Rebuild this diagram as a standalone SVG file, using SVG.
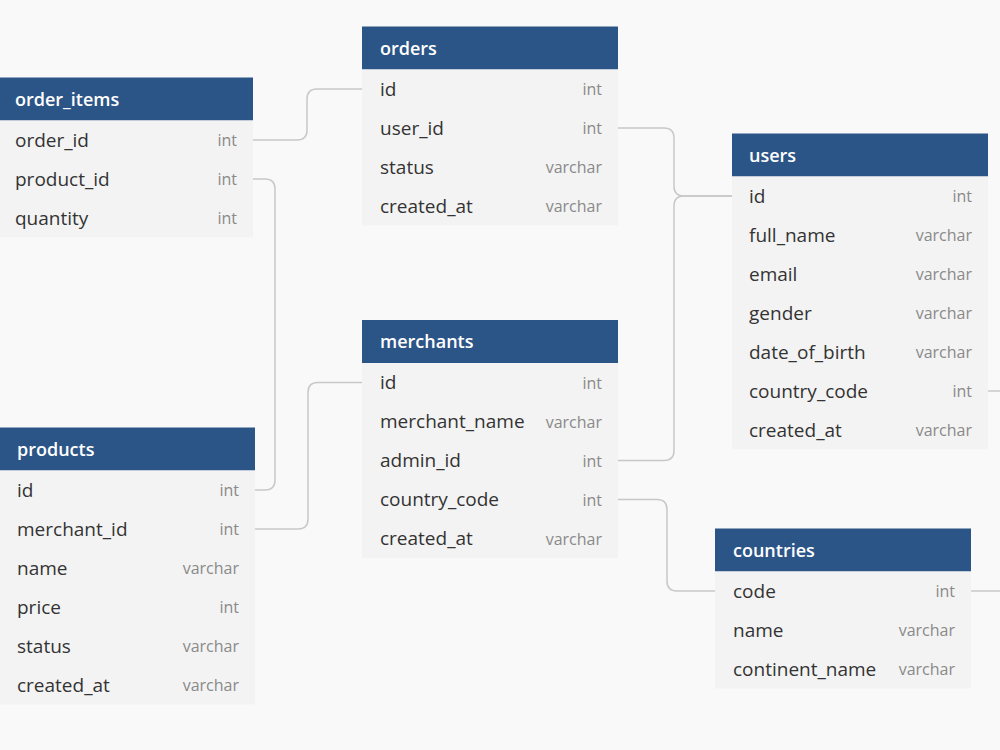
<svg xmlns="http://www.w3.org/2000/svg" width="1000" height="750" viewBox="0 0 1000 750">
<style>
.bg{fill:#f9f9f9}
.hd{fill:#2c5587}
.body{fill:#f3f3f3}
.ht{font-family:"Open Sans","Liberation Sans",sans-serif;font-size:18px;font-weight:600;fill:#ffffff}
.fn{font-family:"Open Sans","Liberation Sans",sans-serif;font-size:19px;fill:#333333}
.ft{font-family:"Open Sans","Liberation Sans",sans-serif;font-size:16px;fill:#8a8a8a;text-anchor:end}
.cn{fill:none;stroke:#c8c8c8;stroke-width:1.5}
</style>
<rect class="bg" x="0" y="0" width="1000" height="750"/>
<g id="connectors">
<path class="cn" d="M253,140 H297 Q307,140 307,130 V99 Q307,89 317,89 H362"/>
<path class="cn" d="M253,179 H265 Q275,179 275,189 V480 Q275,490 265,490 H255"/>
<path class="cn" d="M255,529 H298 Q308,529 308,519 V392.5 Q308,382.5 318,382.5 H362"/>
<path class="cn" d="M618,128 H664 Q674,128 674,138 V186 Q674,196 684,196 H732"/>
<path class="cn" d="M618,460.5 H664 Q674,460.5 674,450.5 V206 Q674,196 684,196 H732"/>
<path class="cn" d="M618,499.5 H657 Q667,499.5 667,509.5 V581 Q667,591 677,591 H715"/>
<path class="cn" d="M988,391 H1000"/>
<path class="cn" d="M971,591 H1000"/>
</g>
<g id="order_items">
<rect class="hd" x="-3" y="77.5" width="256" height="43"/>
<rect class="body" x="-3" y="120.5" width="256" height="117"/>
<text class="ht" x="15" y="105.5">order_items</text>
<text class="fn" x="15" y="146.5">order_id</text><text class="ft" x="237" y="146">int</text>
<text class="fn" x="15" y="185.5">product_id</text><text class="ft" x="237" y="185">int</text>
<text class="fn" x="15" y="224.5">quantity</text><text class="ft" x="237" y="224">int</text>
</g>
<g id="orders">
<rect class="hd" x="362" y="26.5" width="256" height="43"/>
<rect class="body" x="362" y="69.5" width="256" height="156"/>
<text class="ht" x="380" y="54.5">orders</text>
<text class="fn" x="380" y="95.5">id</text><text class="ft" x="602" y="95">int</text>
<text class="fn" x="380" y="134.5">user_id</text><text class="ft" x="602" y="134">int</text>
<text class="fn" x="380" y="173.5">status</text><text class="ft" x="602" y="173">varchar</text>
<text class="fn" x="380" y="212.5">created_at</text><text class="ft" x="602" y="212">varchar</text>
</g>
<g id="users">
<rect class="hd" x="732" y="133.5" width="256" height="43"/>
<rect class="body" x="732" y="176.5" width="256" height="273"/>
<text class="ht" x="749" y="161.5">users</text>
<text class="fn" x="749" y="202.5">id</text><text class="ft" x="972" y="202">int</text>
<text class="fn" x="749" y="241.5">full_name</text><text class="ft" x="972" y="241">varchar</text>
<text class="fn" x="749" y="280.5">email</text><text class="ft" x="972" y="280">varchar</text>
<text class="fn" x="749" y="319.5">gender</text><text class="ft" x="972" y="319">varchar</text>
<text class="fn" x="749" y="358.5">date_of_birth</text><text class="ft" x="972" y="358">varchar</text>
<text class="fn" x="749" y="397.5">country_code</text><text class="ft" x="972" y="397">int</text>
<text class="fn" x="749" y="436.5">created_at</text><text class="ft" x="972" y="436">varchar</text>
</g>
<g id="merchants">
<rect class="hd" x="362" y="320" width="256" height="43"/>
<rect class="body" x="362" y="363" width="256" height="195"/>
<text class="ht" x="380" y="348">merchants</text>
<text class="fn" x="380" y="389">id</text><text class="ft" x="602" y="388.5">int</text>
<text class="fn" x="380" y="428">merchant_name</text><text class="ft" x="602" y="427.5">varchar</text>
<text class="fn" x="380" y="467">admin_id</text><text class="ft" x="602" y="466.5">int</text>
<text class="fn" x="380" y="506">country_code</text><text class="ft" x="602" y="505.5">int</text>
<text class="fn" x="380" y="545">created_at</text><text class="ft" x="602" y="544.5">varchar</text>
</g>
<g id="products">
<rect class="hd" x="-1" y="427.5" width="256" height="43"/>
<rect class="body" x="-1" y="470.5" width="256" height="234"/>
<text class="ht" x="17" y="455.5">products</text>
<text class="fn" x="17" y="496.5">id</text><text class="ft" x="239" y="496">int</text>
<text class="fn" x="17" y="535.5">merchant_id</text><text class="ft" x="239" y="535">int</text>
<text class="fn" x="17" y="574.5">name</text><text class="ft" x="239" y="574">varchar</text>
<text class="fn" x="17" y="613.5">price</text><text class="ft" x="239" y="613">int</text>
<text class="fn" x="17" y="652.5">status</text><text class="ft" x="239" y="652">varchar</text>
<text class="fn" x="17" y="691.5">created_at</text><text class="ft" x="239" y="691">varchar</text>
</g>
<g id="countries">
<rect class="hd" x="715" y="528.5" width="256" height="43"/>
<rect class="body" x="715" y="571.5" width="256" height="117"/>
<text class="ht" x="733" y="556.5">countries</text>
<text class="fn" x="733" y="597.5">code</text><text class="ft" x="955" y="597">int</text>
<text class="fn" x="733" y="636.5">name</text><text class="ft" x="955" y="636">varchar</text>
<text class="fn" x="733" y="675.5">continent_name</text><text class="ft" x="955" y="675">varchar</text>
</g>
</svg>
